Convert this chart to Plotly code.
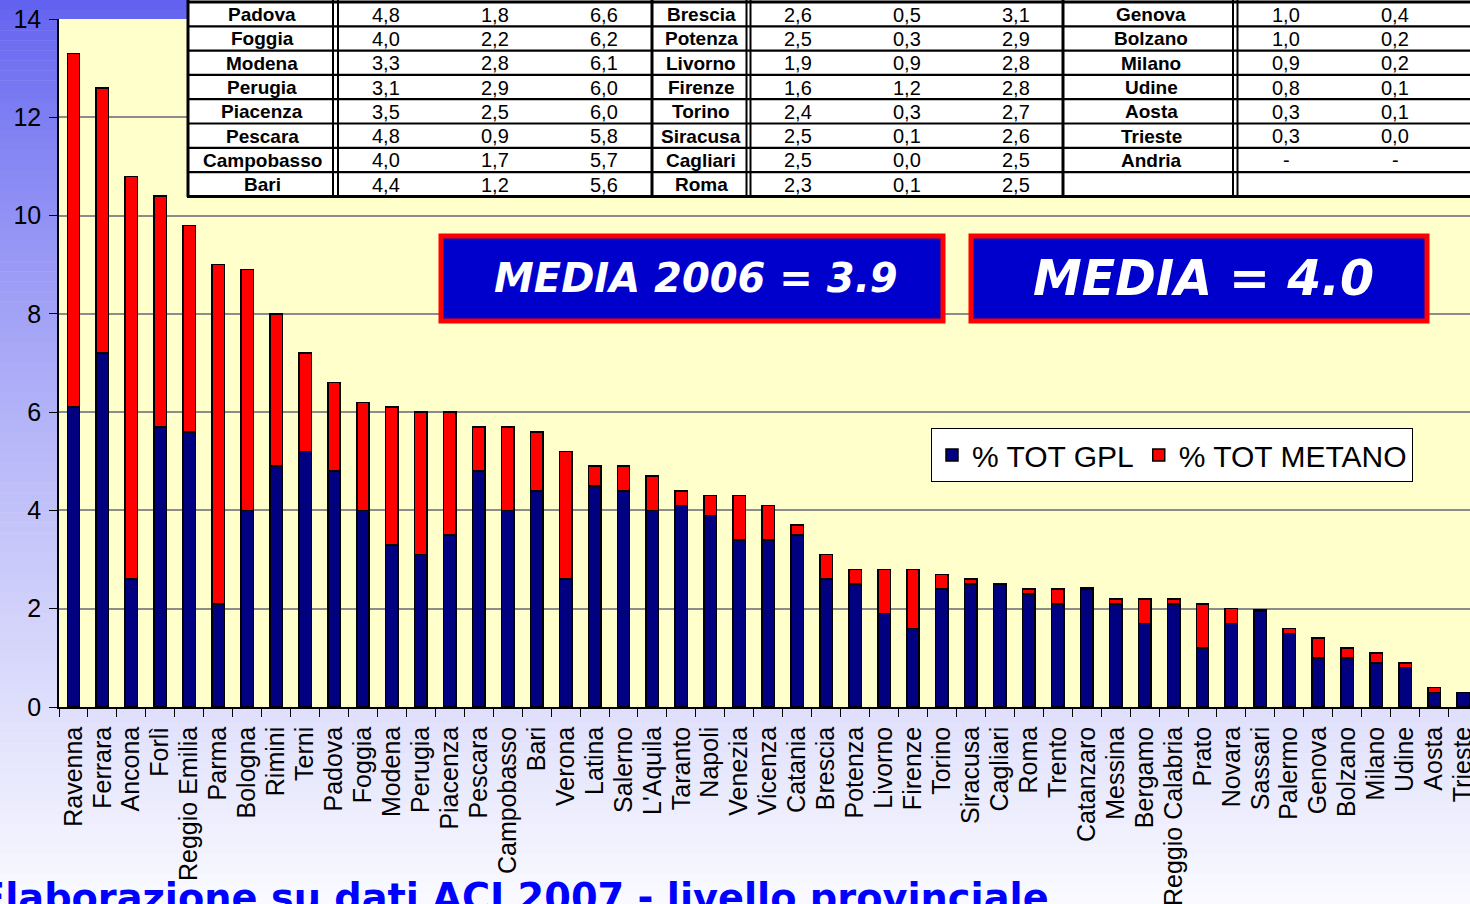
import plotly.graph_objects as go

# ---------------- data ----------------
cities = ["Ravenna", "Ferrara", "Ancona", "Forlì", "Reggio Emilia", "Parma", "Bologna", "Rimini",
          "Terni", "Padova", "Foggia", "Modena", "Perugia", "Piacenza", "Pescara", "Campobasso",
          "Bari", "Verona", "Latina", "Salerno", "L'Aquila", "Taranto", "Napoli", "Venezia",
          "Vicenza", "Catania", "Brescia", "Potenza", "Livorno", "Firenze", "Torino", "Siracusa",
          "Cagliari", "Roma", "Trento", "Catanzaro", "Messina", "Bergamo", "Reggio Calabria",
          "Prato", "Novara", "Sassari", "Palermo", "Genova", "Bolzano", "Milano", "Udine",
          "Aosta", "Trieste"]
gpl = [6.1, 7.2, 2.6, 5.7, 5.6, 2.1, 4.0, 4.9, 5.2, 4.8, 4.0, 3.3, 3.1, 3.5, 4.8, 4.0,
       4.4, 2.6, 4.5, 4.4, 4.0, 4.1, 3.9, 3.4, 3.4, 3.5, 2.6, 2.5, 1.9, 1.6, 2.4, 2.5,
       2.5, 2.3, 2.1, 2.4, 2.1, 1.7, 2.1, 1.2, 1.7, 1.95, 1.5, 1.0, 1.0, 0.9, 0.8, 0.3, 0.3]
metano = [7.2, 5.4, 8.2, 4.7, 4.2, 6.9, 4.9, 3.1, 2.0, 1.8, 2.2, 2.8, 2.9, 2.5, 0.9, 1.7,
          1.2, 2.6, 0.4, 0.5, 0.7, 0.3, 0.4, 0.9, 0.7, 0.2, 0.5, 0.3, 0.9, 1.2, 0.3, 0.1,
          0.0, 0.1, 0.3, 0.03, 0.1, 0.5, 0.1, 0.9, 0.3, 0.02, 0.1, 0.4, 0.2, 0.2, 0.1, 0.1, 0.0]

# inset table (three blocks: name, GPL, METANO, TOT)
tab1_names = ["Padova", "Foggia", "Modena", "Perugia", "Piacenza", "Pescara", "Campobasso", "Bari"]
tab1_gpl = ["4,8", "4,0", "3,3", "3,1", "3,5", "4,8", "4,0", "4,4"]
tab1_met = ["1,8", "2,2", "2,8", "2,9", "2,5", "0,9", "1,7", "1,2"]
tab1_tot = ["6,6", "6,2", "6,1", "6,0", "6,0", "5,8", "5,7", "5,6"]
tab2_names = ["Brescia", "Potenza", "Livorno", "Firenze", "Torino", "Siracusa", "Cagliari", "Roma"]
tab2_gpl = ["2,6", "2,5", "1,9", "1,6", "2,4", "2,5", "2,5", "2,3"]
tab2_met = ["0,5", "0,3", "0,9", "1,2", "0,3", "0,1", "0,0", "0,1"]
tab2_tot = ["3,1", "2,9", "2,8", "2,8", "2,7", "2,6", "2,5", "2,5"]
tab3_names = ["Genova", "Bolzano", "Milano", "Udine", "Aosta", "Trieste", "Andria", ""]
tab3_gpl = ["1,0", "1,0", "0,9", "0,8", "0,3", "0,3", "-", ""]
tab3_met = ["0,4", "0,2", "0,2", "0,1", "0,1", "0,0", "-", ""]

series_names = ["% TOT GPL", "% TOT METANO"]
media_labels = ["MEDIA 2006 = 3.9", "MEDIA = 4.0"]
footer = "Elaborazione su dati ACI 2007 - livello provinciale"

# ---------------- layout geometry ----------------
W, H = 1470, 904
L, T = 59, 19
PW, PH = W - L, 688
B = H - T - PH

def PX(px):
    return (px - L) / PW

def PY(py):
    return (T + PH - py) / PH

ARIAL = "Arial, Liberation Sans, sans-serif"
VERD = "DejaVu Sans, Verdana, sans-serif"

fig = go.Figure()
fig.add_trace(go.Bar(x=cities, y=gpl, name=series_names[0], width=0.43,
                     marker=dict(color="#000080", line=dict(color="black", width=1.5))))
fig.add_trace(go.Bar(x=cities, y=metano, name=series_names[1], width=0.43,
                     marker=dict(color="#FF0000", line=dict(color="black", width=1.5))))

shapes = []
# background gradient strips
n = 90
top = (96, 96, 240)
bot = (250, 250, 255)
for i in range(n):
    y0p = H * i / n
    y1p = H * (i + 1) / n
    t = ((i + 0.5) / n) ** 0.8
    c = tuple(int(round(top[k] + (bot[k] - top[k]) * t)) for k in range(3))
    shapes.append(dict(type="rect", xref="paper", yref="paper", layer="below",
                       x0=PX(0), x1=PX(W), y0=PY(y1p + 0.5), y1=PY(y0p),
                       line=dict(width=0), fillcolor="rgb(%d,%d,%d)" % c))
# plot area background
shapes.append(dict(type="rect", xref="paper", yref="paper", layer="below",
                   x0=0, x1=1, y0=0, y1=1, line=dict(width=0), fillcolor="#FFFFCC"))

# table
tx0, tx1, ty0, ty1 = 187, W + 5, 0, 197
shapes.append(dict(type="rect", xref="paper", yref="paper", x0=PX(tx0), x1=PX(tx1),
                   y0=PY(ty1), y1=PY(ty0), line=dict(width=0), fillcolor="white"))
row_h = 24.3
rows_y = [2 + row_h * i for i in range(9)]
for i, ry in enumerate(rows_y):
    shapes.append(dict(type="line", xref="paper", yref="paper", x0=PX(tx0), x1=PX(tx1),
                       y0=PY(ry), y1=PY(ry),
                       line=dict(color="black", width=3 if i in (0, 8) else 2.2)))
vlines = [(188, 3), (333, 2), (338, 2), (652, 3), (746.5, 2), (750.5, 2), (1063, 3),
          (1233, 2), (1237.5, 2)]
for vx, vw in vlines:
    shapes.append(dict(type="line", xref="paper", yref="paper", x0=PX(vx), x1=PX(vx),
                       y0=PY(0), y1=PY(197), line=dict(color="black", width=vw)))

# media boxes
boxes = [(441, 943, 236, 321), (971, 1427, 236, 321)]
for (bx0, bx1, by0, by1) in boxes:
    shapes.append(dict(type="rect", xref="paper", yref="paper", x0=PX(bx0), x1=PX(bx1),
                       y0=PY(by1), y1=PY(by0), line=dict(color="#FF0000", width=5),
                       fillcolor="#0000CC"))

annotations = []
blocks = [
    (tab1_names, [tab1_gpl, tab1_met, tab1_tot], 262, [386, 495, 604]),
    (tab2_names, [tab2_gpl, tab2_met, tab2_tot], 701, [798, 907, 1016]),
    (tab3_names, [tab3_gpl, tab3_met], 1151, [1286, 1395]),
]
for names, cols, nx, vxs in blocks:
    for r in range(8):
        cy = rows_y[r] + row_h / 2 + 0.5
        if names[r]:
            annotations.append(dict(xref="paper", yref="paper", x=PX(nx), y=PY(cy),
                                    text="<b>%s</b>" % names[r], showarrow=False,
                                    xanchor="center", yanchor="middle",
                                    font=dict(family=ARIAL, size=19, color="black")))
        for col, vx in zip(cols, vxs):
            if col[r]:
                annotations.append(dict(xref="paper", yref="paper", x=PX(vx), y=PY(cy),
                                        text=col[r], showarrow=False,
                                        xanchor="center", yanchor="middle",
                                        font=dict(family=ARIAL, size=20, color="black")))

for (bx0, bx1, by0, by1), lab, fs in zip(boxes, media_labels, [40, 49]):
    annotations.append(dict(xref="paper", yref="paper", x=PX((bx0 + bx1) / 2 + 4),
                            y=PY((by0 + by1) / 2), text="<b><i>%s</i></b>" % lab,
                            showarrow=False, xanchor="center", yanchor="middle",
                            font=dict(family=VERD, size=fs, color="white")))

annotations.append(dict(xref="paper", yref="paper", x=PX(-23), y=PY(873),
                        text="<b>%s</b>" % footer, showarrow=False,
                        xanchor="left", yanchor="top",
                        font=dict(family=VERD, size=38.3, color="#0000FF")))

fig.update_layout(
    barmode="stack",
    width=W, height=H,
    margin=dict(l=L, r=0, t=T, b=B, pad=0, autoexpand=False),
    paper_bgcolor="white",
    plot_bgcolor="rgba(0,0,0,0)",
    shapes=shapes,
    annotations=annotations,
    showlegend=True,
    legend=dict(orientation="h", x=PX(931), y=PY(428), xanchor="left", yanchor="top",
                bgcolor="white", bordercolor="black", borderwidth=1,
                font=dict(family=ARIAL, size=30, color="black"), traceorder="normal"),
    xaxis=dict(type="category", range=[-0.5, 48.24], tickangle=-90,
               tickmode="linear", dtick=1, automargin=False,
               tickfont=dict(family=ARIAL, size=25, color="black"),
               ticks="outside", ticklen=8, tickcolor="black", tickson="boundaries",
               ticklabelstandoff=8,
               showline=True, linecolor="black", linewidth=1.5, showgrid=False,
               fixedrange=True),
    yaxis=dict(range=[0, 14], dtick=2, tickfont=dict(family=ARIAL, size=25, color="black"),
               ticks="outside", ticklen=8, tickcolor="black", ticklabelstandoff=3,
               automargin=False,
               showline=True, linecolor="black", linewidth=1.5,
               showgrid=True, gridcolor="#8C8C8C", gridwidth=2, zeroline=False,
               fixedrange=True),
)

fig.write_html("out.html", config={"displayModeBar": False},
               post_script="document.body.style.margin='0';document.body.style.overflow='hidden';")
